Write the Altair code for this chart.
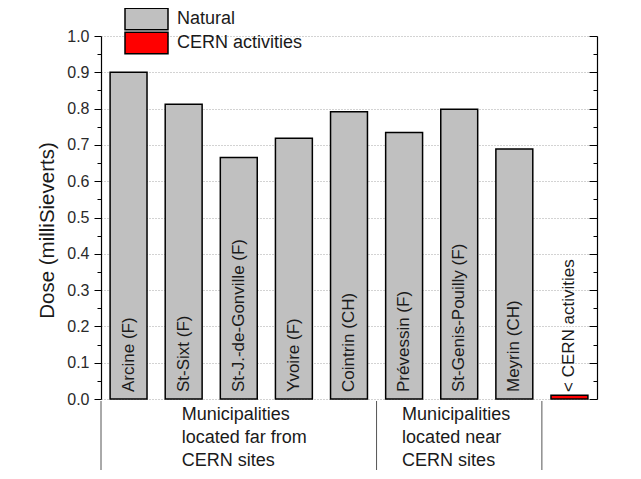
import altair as alt
import pandas as pd

# ---- data ----
categories = ["Arcine (F)", "St-Sixt (F)", "St-J.-de-Gonville (F)", "Yvoire (F)",
              "Cointrin (CH)", "Prévessin (F)", "St-Genis-Pouilly (F)", "Meyrin (CH)",
              "< CERN activities"]
doses = [0.90, 0.812, 0.665, 0.718, 0.791, 0.734, 0.798, 0.689, 0.01]
sources = ["Natural", "Natural", "Natural", "Natural", "Natural", "Natural",
           "Natural", "Natural", "CERN activities"]
source_names = ["Natural", "CERN activities"]
source_colors = ["#c0c0c0", "#ff0000"]

group_texts = ["Municipalities\nlocated far from\nCERN sites",
               "Municipalities\nlocated near\nCERN sites"]
group_anchor = ["St-Sixt (F)", "Prévessin (F)"]
group_starts = ["Arcine (F)", "Prévessin (F)", "< CERN activities"]

major_ticks = [0.0, 0.1, 0.2, 0.3, 0.4, 0.5, 0.6, 0.7, 0.8, 0.9, 1.0]
minor_ticks = [0.05, 0.15, 0.25, 0.35, 0.45, 0.55, 0.65, 0.75, 0.85, 0.95]

FONT = "Liberation Sans"
TXT = "#1a1a1a"

df = pd.DataFrame({"cat": categories, "dose": doses, "source": sources})
groups = pd.DataFrame({"cat": group_anchor, "text": group_texts})
starts = pd.DataFrame({"cat": group_starts})

xscale = alt.Scale(domain=categories, paddingInner=0, paddingOuter=0)
yscale = alt.Scale(domain=[0, 1.0], nice=False)

bars = alt.Chart(df).mark_bar(
    width=alt.RelativeBandSize(0.67), stroke="black", strokeWidth=1.5
).encode(
    x=alt.X("cat:N", scale=xscale, sort=categories,
            axis=alt.Axis(labels=False, ticks=False, title=None,
                          domainColor="black", domainWidth=1.5)),
    y=alt.Y("dose:Q", scale=yscale,
            axis=alt.Axis(orient="left", values=major_ticks, format=".1f",
                          title="Dose (milliSieverts)", grid=True,
                          gridColor="#a8a8a8", gridDash=[1, 2], gridWidth=1.2,
                          tickSize=7, tickColor="black", domainColor="black",
                          domainWidth=1.2, labelPadding=5, labelFontSize=16,
                          labelFont=FONT, labelColor="#2a2a2a", titleFont=FONT,
                          titleFontSize=20.5, titleFontWeight="normal",
                          titleColor=TXT, titlePadding=9, titleY=194)),
    color=alt.Color("source:N",
                    scale=alt.Scale(domain=source_names, range=source_colors),
                    legend=alt.Legend(orient="none", legendX=23, legendY=-29,
                                      title=None, symbolType="M-1,-0.5H1V0.5H-1Z",
                                      symbolSize=1849, symbolStrokeColor="black",
                                      symbolStrokeWidth=1.5, symbolOpacity=1,
                                      labelFontSize=18, labelFont=FONT,
                                      labelColor=TXT, labelOffset=8,
                                      clipHeight=24, rowPadding=0, padding=0))
)

bar_labels = alt.Chart(df).mark_text(
    angle=270, align="left", baseline="middle", dx=7, fontSize=17,
    font=FONT, color=TXT
).encode(
    x=alt.X("cat:N", scale=xscale, sort=categories, axis=None),
    y=alt.YDatum(0, type="quantitative", scale=yscale, axis=None),
    text="cat:N",
)

seps = alt.Chart(starts).mark_rule(color="#555555", strokeWidth=1).encode(
    x=alt.X("cat:N", scale=xscale, sort=categories, axis=None, bandPosition=0),
    y=alt.value(365),
    y2=alt.value(434),
)

group_labels = alt.Chart(groups).mark_text(
    align="left", baseline="top", lineBreak="\n", fontSize=18, lineHeight=23,
    font=FONT, color=TXT, dx=-2
).encode(
    x=alt.X("cat:N", scale=xscale, sort=categories, axis=None),
    y=alt.value(370),
    text="text:N",
)


def axis_layer(axis):
    return alt.Chart(df).mark_point(opacity=0).encode(
        y=alt.Y("dose:Q", scale=yscale, axis=axis)
    )


left_minor = axis_layer(alt.Axis(orient="left", values=minor_ticks, labels=False,
                                 domain=False, grid=False, tickSize=4,
                                 tickColor="black", title=None))
right_major = axis_layer(alt.Axis(orient="right", values=major_ticks, labels=False,
                                  grid=False, tickSize=alt.ExprRef(expr="-8"),
                                  tickColor="black", domainColor="black",
                                  domainWidth=1.2, title=None))
right_minor = axis_layer(alt.Axis(orient="right", values=minor_ticks, labels=False,
                                  grid=False, domain=False,
                                  tickSize=alt.ExprRef(expr="-4"),
                                  tickColor="black", title=None))

chart = alt.layer(
    bars, bar_labels, seps, group_labels, left_minor, right_major, right_minor
).resolve_axis(y="independent").properties(
    width=496, height=363,
    autosize=alt.AutoSizeParams(type="none"),
    padding={"left": 93, "top": 28, "right": 36, "bottom": 72},
).configure_view(stroke=None)

chart.save("out.html", embed_options={"renderer": "svg", "actions": False})
